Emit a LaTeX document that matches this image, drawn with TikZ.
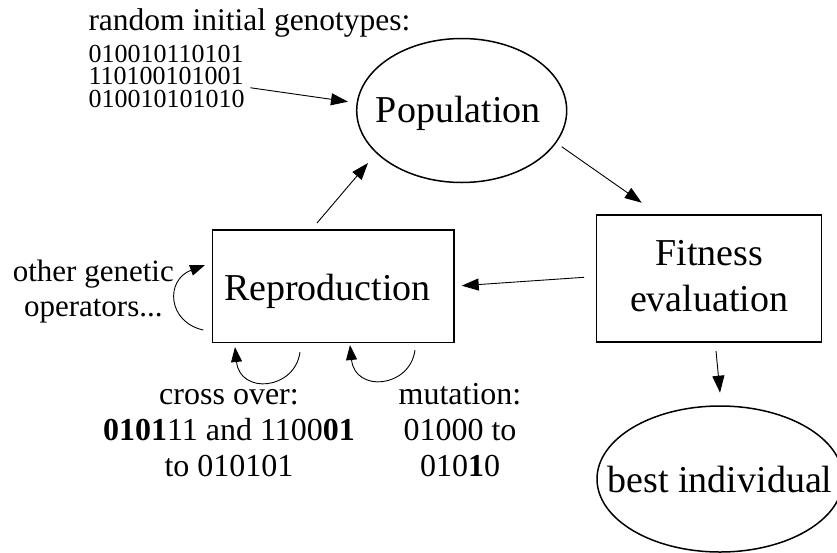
\documentclass[tikz,border=0pt]{standalone}
\usepackage{fontspec}
\setmainfont{Liberation Serif}
\usetikzlibrary{arrows.meta,shapes.geometric}
\newcommand\setfs[2]{\fontsize{#1}{#2}\selectfont}
\tikzset{
  nodebox/.style={draw, line width=1.5pt, rectangle, inner sep=0pt},
  nodeell/.style={draw, line width=1.5pt, ellipse, inner sep=0pt},
  bigtext/.style={font=\setfs{38}{46}, inner sep=0pt},
  conn/.style={line width=0.9pt, -{Triangle[length=17pt,width=12pt]}},
  loopconn/.style={line width=0.9pt, -{Triangle[length=15pt,width=11pt]}},
  plain/.style={inner sep=0pt}
}
\begin{document}
\begin{tikzpicture}[x=1pt,y=-1pt]
\useasboundingbox (0,0) rectangle (837,552);
\clip (0,0) rectangle (837,552);

% main nodes
\node[nodeell, minimum width=210pt, minimum height=144pt,
      label={[bigtext,xshift=-3.4pt,yshift=-3.3pt]center:Population}] (pop) at (461.7,110.5) {};
\node[nodebox, minimum width=225pt, minimum height=127pt,
      label={[bigtext,align=center,yshift=2.8pt]center:Fitness\\evaluation}] (fit) at (709.2,278.5) {};
\node[nodebox, minimum width=241.3pt, minimum height=112.7pt,
      label={[bigtext,xshift=-5.8pt,yshift=-4.8pt]center:Reproduction}] (rep) at (333.3,286.3) {};
\node[nodeell, minimum width=246pt, minimum height=146pt,
      label={[bigtext]center:best individual}] (best) at (720,479) {};

% texts (base anchor = baseline of last line)
\node[plain, anchor=base west, font=\setfs{31.5}{35}] (title) at (88.3,30.7) {random initial genotypes:};
\node[plain, anchor=base west, font=\setfs{26}{22.4}, align=left] (geno) at (88.3,107.3)
  {010010110101\\110100101001\\010010101010};
\node[plain, anchor=base, font=\setfs{31}{35}, align=center] (other) at (93.3,316.7)
  {other genetic\\operators...};
\node[plain, anchor=base, font=\setfs{32}{36}, align=center] (cross) at (229,476.7)
  {cross over:\\\textbf{0101}11 and 1100\textbf{01}\\to 010101};
\node[plain, anchor=base, font=\setfs{32}{36}, align=center] (mut) at (460,476.7)
  {mutation:\\01000 to\\010\textbf{1}0};

% connectors
\draw[conn] ([shift={(5.7,-20)}]geno.south east) -- ([shift={(-113.7,-8.8)}]pop.center);
\draw[conn] ([shift={(100,36.2)}]pop.center) -- ([shift={(-67.5,-75.8)}]fit.center);
\draw[conn] ([shift={(-125.2,-1.2)}]fit.center) -- ([shift={(128.4,-0.6)}]rep.center);
\draw[conn] ([shift={(6.8,72.5)}]fit.center) -- ([shift={(0,-86.3)}]best.center);
\draw[conn] ([shift={(-16.3,-63.3)}]rep.center) -- ([shift={(-93.7,52.5)}]pop.center);
\draw[loopconn] ([shift={(-130,43.7)}]rep.center) .. controls +(-36,-8) and +(-40,15) .. ([shift={(-128.3,-21.3)}]rep.center);
\draw[loopconn] ([shift={(-33.3,65.7)}]rep.center) .. controls +(-5,38) and +(5,48) .. ([shift={(-98.3,60.7)}]rep.center);
\draw[loopconn] ([shift={(81.7,63.7)}]rep.center) .. controls +(-5,38) and +(5,48) .. ([shift={(16.7,58.7)}]rep.center);
\end{tikzpicture}
\end{document}
